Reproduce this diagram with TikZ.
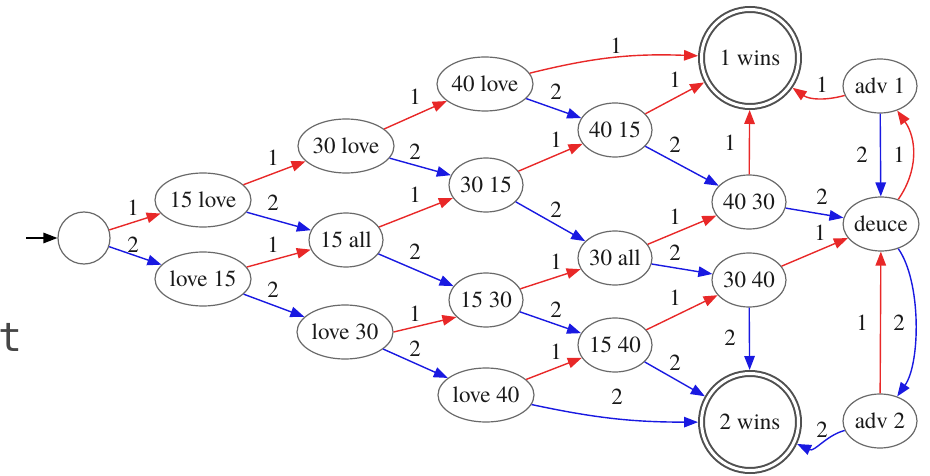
\documentclass[tikz,border=0pt]{standalone}
\usepackage{fontspec}
\newfontfamily\serf{texgyretermes}[Extension=.otf,UprightFont=*-regular,BoldFont=*-bold]
\newfontfamily\tfont{DejaVu Sans Mono}
\usetikzlibrary{arrows.meta,shapes.geometric}
\definecolor{ered}{RGB}{232,40,40}
\definecolor{eblue}{RGB}{25,25,225}
\definecolor{ngray}{RGB}{105,105,105}
\definecolor{dgray}{RGB}{80,80,80}
\definecolor{txt}{RGB}{25,25,25}
\newcommand\elab[3]{\node[lab] (#1) at (#2) {#3};}
\begin{document}
\begin{tikzpicture}[x=1pt,y=1pt,
  st/.style={ellipse,draw=ngray,line width=1.2pt,fill=white,inner sep=0pt,
    minimum width=74pt,minimum height=54pt,font=\serf\fontsize{23}{27}\selectfont,text=txt},
  wide/.style={st,minimum width=96pt},
  wst/.style={circle,draw=dgray,line width=2pt,double=white,double distance=3pt,
    fill=white,minimum size=97pt,inner sep=0pt,outer sep=3.5pt,
    font=\serf\fontsize{23}{27}\selectfont,text=txt},
  lab/.style={font=\serf\fontsize{23}{27}\selectfont,inner sep=0pt,text=txt},
  tip/.style={-{Triangle[length=14pt,width=10.5pt]}},
  r/.style={draw=ered,line width=1.4pt,tip},
  b/.style={draw=eblue,line width=1.4pt,tip},
  k/.style={draw=black,line width=1.4pt,tip},
]
\useasboundingbox (0,-476) rectangle (930,0);

% stray text at the left edge
\node[font=\tfont\fontsize{40}{44}\selectfont,text={rgb,255:red,70;green,70;blue,70},inner sep=0pt,anchor=base] (tt) at (11,-351) {t};

% states
\node[circle,draw=ngray,line width=1.2pt,fill=white,minimum size=52pt,inner sep=0pt] (s0) at (84,-238) {};
\coordinate (in) at (26,-238);
\node[wide] (a15love) at (203,-200) {15 love};
\node[wide] (love15) at (203,-279) {love 15};
\node[wide] (a30love) at (346,-146) {30 love};
\node[st]   (a15all) at (346,-240) {15 all};
\node[wide] (love30) at (345,-332) {love 30};
\node[wide] (a40love) at (485,-84) {40 love};
\node[st]   (a3015) at (486,-185) {30 15};
\node[st]   (a1530) at (486,-300) {15 30};
\node[wide] (love40) at (486,-395) {love 40};
\node[st]   (a4015) at (615,-130) {40 15};
\node[st]   (a30all) at (615,-258) {30 all};
\node[st]   (a1540) at (615,-345) {15 40};
\node[wst]  (win1) at (750,-58) {1 wins};
\node[st]   (a4030) at (749,-202) {40 30};
\node[st]   (a3040) at (749,-280) {30 40};
\node[wst]  (win2) at (750,-422) {2 wins};
\node[st]   (adv1) at (880,-86) {adv 1};
\node[st]   (deuce) at (881,-224) {deuce};
\node[st]   (adv2) at (880,-421) {adv 2};

% transitions
\draw[k] (in) -- (s0);
\draw[r] (s0) -- (a15love);
\draw[b] (s0) -- (love15);
\draw[r] (a15love) -- (a30love);
\draw[b] (a15love) -- (a15all);
\draw[r] (love15) -- (a15all);
\draw[b] (love15) -- (love30);
\draw[r] (a30love) -- (a40love);
\draw[b] (a30love) -- (a3015);
\draw[r] (a15all) -- (a3015);
\draw[b] (a15all) -- (a1530);
\draw[r] (love30.east) -- (a1530.210);
\draw[b] (love30) -- (love40);
\draw[r] (a40love) to[bend left=8] (win1);
\draw[b] (a40love) -- (a4015);
\draw[r] (a3015) -- (a4015);
\draw[b] (a3015) -- (a30all);
\draw[r] (a1530) -- (a30all);
\draw[b] (a1530) -- (a1540);
\draw[r] (love40) -- (a1540);
\draw[b] (love40) to[bend right=6] (win2);
\draw[r] (a4015) -- (win1);
\draw[b] (a4015) -- (a4030);
\draw[r] (a30all) -- (a4030);
\draw[b] (a30all) -- (a3040);
\draw[r] (a1540) -- (a3040);
\draw[b] (a1540) -- (win2);
\draw[r] (a4030) -- (win1);
\draw[b] (a4030) -- (deuce);
\draw[r] (a3040) -- (deuce);
\draw[b] (a3040) -- (win2);
\draw[r] (adv1) to[out=195,in=-35] (win1);
\draw[b] (adv1) -- (deuce);
\draw[r] (deuce) to[out=55,in=-55] (adv1);
\draw[b] (deuce) to[out=-55,in=55,looseness=0.7] (adv2);
\draw[r] (adv2) -- (deuce);
\draw[b] (adv2) to[out=195,in=-25] (win2);

% labels
\elab{l1}{133,-208}{1}
\elab{l2}{133,-245}{2}
\elab{l3}{273,-158}{1}
\elab{l4}{273,-203}{2}
\elab{l5}{273,-245}{1}
\elab{l6}{273,-290}{2}
\elab{l7}{415,-97}{1}
\elab{l8}{415,-152}{2}
\elab{l9}{415,-195}{1}
\elab{l10}{415,-252}{2}
\elab{l11}{415,-314}{1}
\elab{l12}{415,-349}{2}
\elab{l13}{616,-46}{1}
\elab{l14}{556,-92}{2}
\elab{l15}{556,-140}{1}
\elab{l16}{556,-210}{2}
\elab{l17}{556,-262}{1}
\elab{l18}{556,-310}{2}
\elab{l19}{556,-352}{1}
\elab{l20}{617,-397}{2}
\elab{l21}{675,-80}{1}
\elab{l22}{675,-145}{2}
\elab{l23}{675,-217}{1}
\elab{l24}{675,-253}{2}
\elab{l25}{675,-298}{1}
\elab{l26}{675,-363}{2}
\elab{l27}{730,-143}{1}
\elab{l28}{822,-197}{2}
\elab{l29}{820,-233}{1}
\elab{l30}{730,-338}{2}
\elab{l31}{822,-85}{1}
\elab{l32}{862,-155}{2}
\elab{l33}{899,-155}{1}
\elab{l34}{862,-323}{1}
\elab{l35}{899,-323}{2}
\elab{l36}{822,-430}{2}
\end{tikzpicture}
\end{document}
